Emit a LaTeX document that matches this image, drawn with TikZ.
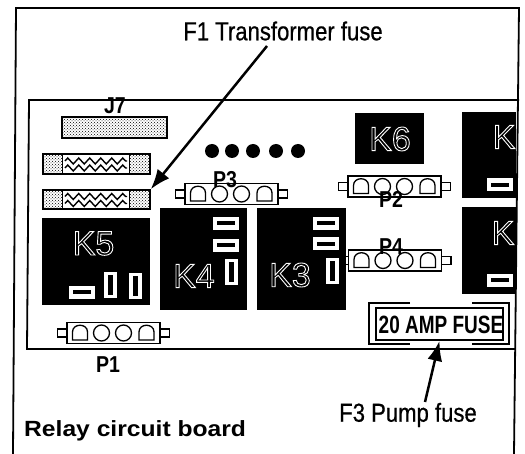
\documentclass[tikz,border=0pt]{standalone}
\usepackage{fontspec}
\usetikzlibrary{arrows.meta,patterns,decorations.pathmorphing}
\setmainfont{Liberation Sans}
\newfontfamily\calloutfont[FakeStretch=0.85,FakeBold=0.6]{Liberation Sans}
\newfontfamily\tagfont[FakeStretch=0.85]{Liberation Sans}
\newfontfamily\titlefont[FakeStretch=1.12]{Liberation Sans}
\newfontfamily\fusefont[FakeStretch=0.76]{Liberation Sans}
\newcommand{\hollow}[1]{\special{pdf:code q 1 Tr 0.9 w 1 1 1 RG}#1\special{pdf:code Q}}
\begin{document}
\begin{tikzpicture}[
       x=1pt, y=-1pt,
       frameline/.style={line width=1.8pt, black},
       relay/.style={rectangle, fill=black, inner sep=0pt},
       relaytext/.style={inner sep=0pt, font=\fontsize{34}{34}\selectfont},
       strip/.style={rectangle, draw=black, line width=1.5pt, inner sep=0pt, pattern=crosshatch dots, pattern color=black},
       midstrip/.style={rectangle, draw=black, line width=1.2pt, fill=white, inner sep=0pt, minimum width=67pt, minimum height=19pt},
       zig/.style={decorate, decoration={zigzag, segment length=11pt, amplitude=3pt}, line width=1.4pt},
       spade/.style={rectangle, draw=black, line width=1pt, fill=white, inner sep=0pt},
       flat/.style={spade, minimum width=27pt, minimum height=14pt},
       tall/.style={spade, minimum width=14pt, minimum height=27pt},
       pinbar/.style={rectangle, fill=black, inner sep=0pt},
       tagtext/.style={inner sep=0pt, font=\tagfont\bfseries\fontsize{23}{23}\selectfont},
       callout/.style={inner sep=0pt, font=\calloutfont\fontsize{26}{26}\selectfont},
       arrow/.style={-{Latex[length=20pt, width=15pt]}, line width=2.5pt, black},
       dome/.pic={\draw[line width=1.3pt, fill=white] (-7.5,7) -- (-7.5,-1) .. controls (-7.5,-10) and (7.5,-10) .. (7.5,-1) -- (7.5,7) -- cycle;},
       plug/.pic={
          \draw[line width=1.4pt, fill=white] (-56,-4) rectangle (56,4);
          \draw[line width=1.4pt, fill=white] (-46.5,-10.5) rectangle (46.5,10.5);
          \pic at (-33.5,0) {dome};
          \pic at (33,0) {dome};
          \draw[line width=1.3pt, fill=white] (-12,0) circle[radius=8pt];
          \draw[line width=1.3pt, fill=white] (10,0) circle[radius=8pt];
       }
   ]
   \useasboundingbox (0,0) rectangle (525,454);
   \fill[white] (0,0) rectangle (525,454);

   % frame and board
   \coordinate (frameBL) at (13,454);
   \coordinate (frameTL) at (16,8);
   \coordinate (frameTR) at (519,8);
   \coordinate (frameBR) at (514,454);
   \coordinate (boardTR) at (519,100);
   \coordinate (boardTL) at (29,100);
   \coordinate (boardBL) at (27,349);
   \coordinate (boardBR) at (515,349);
   \draw[frameline] (frameBL) -- (frameTL) -- (frameTR) -- (frameBR);
   \draw[frameline] (boardTR) -- (boardTL) -- (boardBL) -- (boardBR);

   % strips
   \node[strip, minimum width=105pt, minimum height=21pt] (j7) at (114.5,127.5) {};
   \node[strip, minimum width=107pt, minimum height=20pt] (f2) at (96.5,164) {};
   \node[midstrip] (f2mid) at (96,164) {};
   \node[strip, minimum width=107pt, minimum height=19pt] (f1) at (96.5,199.5) {};
   \node[midstrip] (f1mid) at (96,199.5) {};
   \draw[zig] (65,161) -- (127,161);
   \draw[zig] (65,168) -- (127,168);
   \draw[zig] (65,196.5) -- (127,196.5);
   \draw[zig] (65,203.5) -- (127,203.5);

   % dots
   \foreach \dotx in {212,232,253,276,298}
      \fill (\dotx,151) circle[radius=7pt];

   % plugs
   \pic (p3plug) at (231.5,194) {plug};
   \pic (p2plug) at (394.5,186.5) {plug};
   \pic (p4plug) at (395,260.5) {plug};
   \pic (p1plug) at (113.5,333) {plug};

   % relays
   \node[relay, minimum width=69pt, minimum height=51pt] (k6) at (389.5,138.5) {};
   \node[relay, minimum width=108pt, minimum height=87pt] (k5) at (96,261.5) {};
   \node[relay, minimum width=87pt, minimum height=102pt] (k4) at (203.5,259) {};
   \node[relay, minimum width=89pt, minimum height=102pt] (k3) at (301.5,259) {};
   \node[relay, minimum width=54pt, minimum height=86pt] (ktop) at (489,155) {};
   \node[relay, minimum width=54pt, minimum height=87pt] (klow) at (489,250.5) {};

   \node[relaytext] (k6text) at (390,139) {\hollow{K6}};
   \node[relaytext] (k5text) at (93.5,243.5) {\hollow{K5}};
   \node[relaytext] (k4text) at (194,276) {\hollow{K4}};
   \node[relaytext] (k3text) at (290,275) {\hollow{K3}};
   \node[relaytext] (ktoptext) at (504,137) {\hollow{K}};
   \node[relaytext] (klowtext) at (503,233) {\hollow{K}};

   % spades on the relays
   \foreach \spx/\spy/\spname in {82/292.5/a, 226/223.5/b, 226/245.5/c, 326/223.5/d, 326/244/e, 499.5/185/f, 499.5/280.5/g} {
      \node[flat] (flat\spname) at (\spx,\spy) {};
      \node[pinbar, minimum width=18pt, minimum height=4pt] at (flat\spname) {};
   }
   \foreach \spx/\spy/\spname in {110/285.5/a, 135/286/b, 231.5/272.5/c, 332/271.5/d} {
      \node[tall] (tall\spname) at (\spx,\spy) {};
      \node[pinbar, minimum width=5pt, minimum height=20pt] at (tall\spname) {};
   }

   % fuse
   \draw[line width=1.3pt, fill=white] (410,303) -- (369,303) -- (369,344) -- (410,344);
   \draw[line width=1.3pt, fill=white] (472,303) -- (509,303) -- (509,344) -- (472,344);
   \node[rectangle, draw=black, line width=1.8pt, fill=white, minimum width=127pt, minimum height=32pt, inner sep=0pt] (fuse) at (439.5,324) {};
   \node[inner sep=0pt, font=\fusefont\bfseries\fontsize{25}{25}\selectfont] (fusetext) at (441,325) {20 AMP FUSE};

   % labels
   \node[tagtext] (j7tag) at (115,106) {J7};
   \node[tagtext] (p3tag) at (225,180) {P3};
   \node[tagtext] (p2tag) at (391,199) {P2};
   \node[tagtext] (p4tag) at (391,247) {P4};
   \node[tagtext] (p1tag) at (108,365) {P1};
   \node[callout] (f1text) at (283,31) {F1 Transformer fuse};
   \node[callout] (f3text) at (408,415) {F3 Pump fuse};
   \node[anchor=west, inner sep=0pt, font=\titlefont\bfseries\fontsize{22}{22}\selectfont] (title) at (24,431) {Relay circuit board};

   \coordinate (f1start) at (267,46);
   \coordinate (f3start) at (425,402);
   \draw[arrow] (f1start) -- (f1.north east);
   \draw[arrow] (f3start) -- (fuse.south);
\end{tikzpicture}
\end{document}
